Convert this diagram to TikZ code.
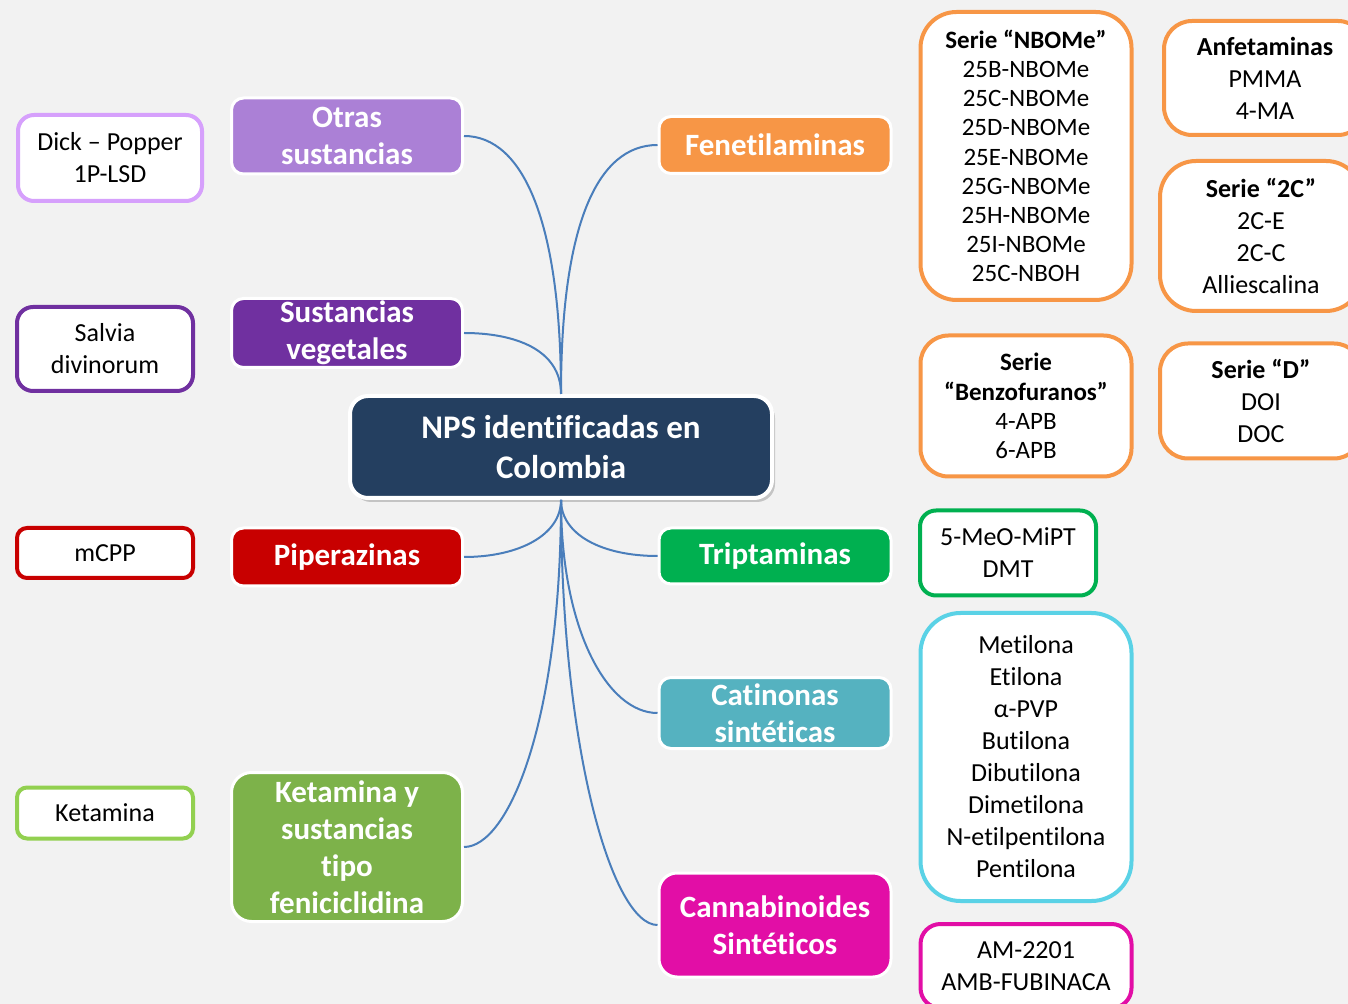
\documentclass[tikz,border=0pt]{standalone}
\usepackage{fontspec}
\setmainfont{Carlito}[Ligatures={TeX,NoCommon}]
\usetikzlibrary{positioning, shadows}
\definecolor{bgcol}{HTML}{F2F2F2}
\definecolor{npscol}{HTML}{243F60}
\definecolor{linkcol}{HTML}{4A7EBB}
\definecolor{otrascol}{HTML}{AB80D6}
\definecolor{otrasline}{HTML}{D6A0FC}
\definecolor{vegcol}{HTML}{7030A0}
\definecolor{pipcol}{HTML}{C80000}
\definecolor{ketcol}{HTML}{7DB24A}
\definecolor{ketline}{HTML}{92D050}
\definecolor{fencol}{HTML}{F79646}
\definecolor{tricol}{HTML}{00B050}
\definecolor{catcol}{HTML}{55B2C0}
\definecolor{catline}{HTML}{5AD2E6}
\definecolor{cancol}{HTML}{E20EA6}
\tikzset{
  font=\fontsize{13}{16}\selectfont,
  % Root node
  rnode/.style={draw=white, line width=2pt, fill=npscol, text=white,
    rounded corners=9pt, align=center, inner sep=0pt,
    font=\bfseries\fontsize{16.5}{20}\selectfont,
    minimum width=211pt, minimum height=51pt,
    drop shadow={opacity=0.4, shadow xshift=1.5pt, shadow yshift=-2pt}},
  % Category node
  cnode/.style={draw=white, line width=1.5pt, fill=#1, text=white,
    rounded corners=6pt, align=center, inner sep=0pt,
    font=\bfseries\fontsize{15.5}{18.5}\selectfont, minimum width=115.5pt},
  % Leaf node
  lnode/.style={draw=#1, line width=2pt, fill=white, rounded corners=8pt,
    align=center, inner sep=0pt},
  % Long leaf node
  llnode/.style={lnode=#1, rounded corners=18pt},
  % Links
  link/.style={draw=linkcol, line width=1pt},
}
\begin{document}
\begin{tikzpicture}[x=0.5pt, y=-0.5pt]
  \useasboundingbox (0,0) rectangle (1348,1004);
  \fill[bgcol] (0,0) rectangle (1348,1004);
  \clip (0,0) rectangle (1348,1004);

  \node[rnode] (nps) at (561,447) {NPS identificadas en\\Colombia};

  % left branches
  \node[cnode=otrascol, minimum height=38pt] (otras) at (347,136) {Otras\\sustancias};
  \node[cnode=vegcol, minimum height=34.5pt] (vegetales) at (347,333) {Sustancias\\vegetales};
  \node[cnode=pipcol, minimum height=29pt] (piperaz) at (347,557) {Piperazinas};
  \node[cnode=ketcol, minimum height=74.5pt, rounded corners=10pt] (ketam) at (347,847)
    {Ketamina y\\sustancias\\tipo\\feniciclidina};

  % right branches
  \node[cnode=fencol, minimum width=116pt, minimum height=28.5pt] (fenetil) at (775,145) {Fenetilaminas};
  \node[cnode=tricol, minimum width=116pt, minimum height=28pt] (tript) at (775,556) {Triptaminas};
  \node[cnode=catcol, minimum width=116pt, minimum height=35.5pt] (catin) at (775,713) {Catinonas\\sintéticas};
  \node[cnode=cancol, minimum width=116pt, minimum height=52pt, rounded corners=9pt] (canna) at (775,925)
    {Cannabinoides\\Sintéticos};

  % leaves
  \node[lnode=otrasline, minimum width=92pt, minimum height=43pt] (dick) at (110,158) {Dick – Popper\\1P-LSD};
  \node[lnode=vegcol, minimum width=88pt, minimum height=42pt] (salvia) at (105,349) {Salvia\\divinorum};
  \node[lnode=pipcol, minimum width=88pt, minimum height=25pt, rounded corners=5pt] (mcpp) at (105,553) {mCPP};
  \node[lnode=ketline, minimum width=88pt, minimum height=25.5pt, rounded corners=5pt] (ketleaf) at (105,813) {Ketamina};

  \node[llnode=fencol, minimum width=105.5pt, minimum height=144pt,
    font=\fontsize{12.5}{14.6}\selectfont] (nbome) at (1026,156)
    {\textbf{Serie “NBOMe”}\\25B-NBOMe\\25C-NBOMe\\25D-NBOMe\\25E-NBOMe\\25G-NBOMe\\25H-NBOMe\\25I-NBOMe\\25C-NBOH};
  \node[llnode=fencol, minimum width=101pt, minimum height=57pt, rounded corners=14pt] (anfet) at (1265,78)
    {\textbf{Anfetaminas}\\PMMA\\4-MA};
  \node[llnode=fencol, minimum width=101pt, minimum height=75pt] (dosc) at (1261,236)
    {\textbf{Serie “2C”}\\2C-E\\2C-C\\Alliescalina};
  \node[llnode=fencol, minimum width=105.5pt, minimum height=70.5pt, rounded corners=14pt,
    font=\fontsize{12.5}{14.6}\selectfont] (benzo) at (1026,406)
    {\textbf{Serie}\\\textbf{“Benzofuranos”}\\4-APB\\6-APB};
  \node[llnode=fencol, minimum width=101pt, minimum height=57.5pt, rounded corners=14pt] (seried) at (1261,401)
    {\textbf{Serie “D”}\\DOI\\DOC};
  \node[lnode=tricol, minimum width=88pt, minimum height=42.5pt] (triptleaf) at (1008,553) {5-MeO-MiPT\\DMT};
  \node[llnode=catline, minimum width=105.5pt, minimum height=144pt, rounded corners=20pt] (catleaf) at (1026,757)
    {Metilona\\Etilona\\α-PVP\\Butilona\\Dibutilona\\Dimetilona\\N-etilpentilona\\Pentilona};
  \node[lnode=cancol, minimum width=105.5pt, minimum height=42pt, rounded corners=10pt] (cannaleaf) at (1026,966)
    {AM-2201\\AMB-FUBINACA};

  % links from the root
  \draw[link] (nps.north) .. controls +(0,-170) and +(60,0) .. (otras.east);
  \draw[link] (nps.north) .. controls +(0,-45) and +(50,0) .. (vegetales.east);
  \draw[link] (nps.north) .. controls +(0,-170) and +(-60,0) .. (fenetil.west);
  \draw[link] (nps.south) .. controls +(0,35) and +(55,0) .. (piperaz.east);
  \draw[link] (nps.south) .. controls +(0,35) and +(-55,0) .. (tript.west);
  \draw[link] (nps.south) .. controls +(0,130) and +(-50,0) .. (catin.west);
  \draw[link] (nps.south) .. controls +(0,220) and +(45,0) .. (ketam.east);
  \draw[link] (nps.south) .. controls +(0,250) and +(-45,0) .. (canna.west);
\end{tikzpicture}
\end{document}
